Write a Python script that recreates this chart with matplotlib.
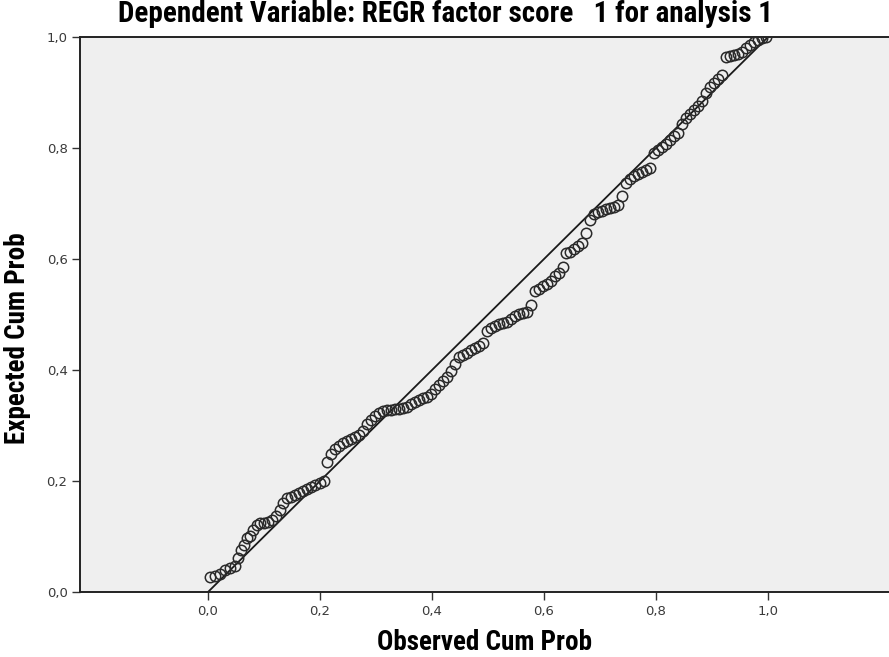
import matplotlib.pyplot as plt

# observed cumulative probability (x) and expected cumulative probability (y)
observed = [0.004, 0.013, 0.021, 0.030, 0.039, 0.048, 0.054, 0.059, 0.064, 0.070,
            0.075, 0.080, 0.088, 0.093, 0.100, 0.107, 0.114, 0.121, 0.129, 0.134,
            0.141, 0.148, 0.155, 0.163, 0.170, 0.177, 0.184, 0.191, 0.200, 0.207,
            0.213, 0.220, 0.227, 0.234, 0.241, 0.248, 0.255, 0.263, 0.270, 0.277,
            0.284, 0.291, 0.298, 0.305, 0.313, 0.320, 0.327, 0.334, 0.341, 0.348,
            0.355, 0.363, 0.370, 0.377, 0.384, 0.391, 0.398, 0.405, 0.413, 0.420,
            0.427, 0.434, 0.441, 0.448, 0.455, 0.463, 0.470, 0.477, 0.484, 0.491,
            0.498, 0.505, 0.513, 0.520, 0.527, 0.534, 0.541, 0.548, 0.555, 0.563,
            0.570, 0.577, 0.584, 0.591, 0.598, 0.605, 0.613, 0.620, 0.627, 0.634,
            0.639, 0.646, 0.654, 0.661, 0.668, 0.675, 0.682, 0.689, 0.696, 0.704,
            0.711, 0.718, 0.725, 0.732, 0.739, 0.746, 0.754, 0.761, 0.768, 0.775,
            0.782, 0.789, 0.796, 0.804, 0.811, 0.818, 0.825, 0.832, 0.839, 0.846,
            0.854, 0.861, 0.868, 0.875, 0.882, 0.889, 0.896, 0.904, 0.911, 0.918,
            0.925, 0.932, 0.939, 0.946, 0.954, 0.961, 0.968, 0.975, 0.982, 0.989,
            0.996]
expected = [0.027, 0.029, 0.032, 0.040, 0.043, 0.047, 0.061, 0.076, 0.085, 0.097,
            0.101, 0.112, 0.121, 0.124, 0.124, 0.126, 0.130, 0.137, 0.148, 0.160,
            0.169, 0.171, 0.175, 0.178, 0.182, 0.186, 0.189, 0.193, 0.196, 0.200,
            0.234, 0.249, 0.258, 0.263, 0.268, 0.272, 0.276, 0.279, 0.283, 0.290,
            0.303, 0.310, 0.317, 0.323, 0.326, 0.328, 0.328, 0.330, 0.330, 0.332,
            0.333, 0.339, 0.342, 0.346, 0.350, 0.351, 0.357, 0.366, 0.373, 0.380,
            0.387, 0.398, 0.411, 0.423, 0.427, 0.431, 0.436, 0.440, 0.443, 0.449,
            0.470, 0.476, 0.479, 0.483, 0.485, 0.486, 0.492, 0.497, 0.501, 0.503,
            0.505, 0.517, 0.542, 0.546, 0.551, 0.555, 0.560, 0.569, 0.575, 0.586,
            0.611, 0.613, 0.618, 0.623, 0.629, 0.647, 0.670, 0.681, 0.685, 0.686,
            0.690, 0.692, 0.694, 0.697, 0.714, 0.737, 0.744, 0.750, 0.753, 0.757,
            0.760, 0.764, 0.791, 0.796, 0.802, 0.807, 0.814, 0.822, 0.827, 0.843,
            0.854, 0.861, 0.868, 0.876, 0.885, 0.899, 0.910, 0.917, 0.924, 0.932,
            0.964, 0.966, 0.968, 0.969, 0.973, 0.980, 0.986, 0.991, 0.995, 0.998,
            1.000]
ref_line = [0.0, 1.0]
ticks = [0.0, 0.2, 0.4, 0.6, 0.8, 1.0]
tick_labels = ["0,0", "0,2", "0,4", "0,6", "0,8", "1,0"]

bold_font = ['Roboto Condensed', 'Roboto', 'DejaVu Sans']

fig = plt.figure(figsize=(8.89, 6.57), dpi=100)
ax = fig.add_axes([80/889, 65/657, 1 - 80/889, 555/657])
ax.set_facecolor('#efefef')

ax.plot(ref_line, ref_line, color='#1a1a1a', lw=1.3, zorder=2)
ax.plot(observed, expected, 'o', ms=7.5, mfc='none', mec='#2a2a2a', mew=1.1, zorder=3)

ax.set_xlim(-0.2286, 1.216)
ax.set_ylim(0, 1)
ax.set_xticks(ticks)
ax.set_xticklabels(tick_labels)
ax.set_yticks(ticks)
ax.set_yticklabels(tick_labels)
ax.tick_params(direction='out', length=6, width=1, color='#333333',
               labelsize=9.5, labelcolor='#3a3a3a', pad=3)

for side in ['left', 'bottom', 'top']:
    ax.spines[side].set_color('#222222')
    ax.spines[side].set_linewidth(1.4)
ax.spines['right'].set_visible(False)

fig.text(485/889, 1 - 643/657, "Observed Cum Prob", family=bold_font,
         fontweight='bold', fontsize=19.5, ha='center', va='center')
fig.text(18/889, 1 - 338/657, "Expected Cum Prob", family=bold_font,
         fontweight='bold', fontsize=19.5, ha='center', va='center', rotation=90)
fig.text(445/889, 1 - 14/657, "Dependent Variable: REGR factor score   1 for analysis 1",
         family=bold_font, fontweight='bold', fontsize=21, ha='center', va='center')

plt.savefig('out.png', dpi=100)
